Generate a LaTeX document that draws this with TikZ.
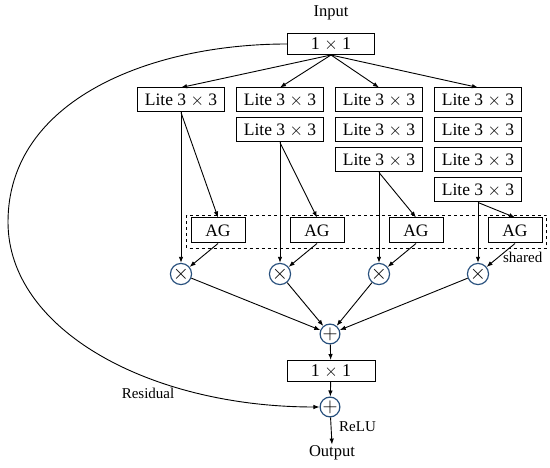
\documentclass[tikz,border=0pt]{standalone}
\usepackage{fontspec}
\setmainfont{Liberation Serif}
\usetikzlibrary{arrows.meta,calc,positioning}
\definecolor{opblue}{RGB}{40,80,125}

\begin{document}
\begin{tikzpicture}[x=1pt, y=-1pt,
    box/.style={draw, line width=1pt, inner sep=0pt, minimum width=87pt,
      minimum height=24pt, font=\fontsize{17.5}{20}\selectfont},
    agbox/.style={box, minimum width=54pt, minimum height=25pt},
    conv/.style={box, minimum height=21pt, font=\fontsize{18}{20}\selectfont},
    op/.style={draw=opblue, line width=1.2pt, circle, inner sep=0pt,
      minimum size=19pt, font=\fontsize{20}{20}\selectfont},
    lbl/.style={font=\fontsize{15}{18}\selectfont, inner sep=1pt},
    arr/.style={-{Latex[length=6pt,width=4.5pt]}, line width=0.9pt}]

\useasboundingbox (0,0) rectangle (550,468);

% Input and first 1x1
\node[lbl, font=\fontsize{16.5}{18}\selectfont] (input) at (331,13) {Input};
\node[conv, minimum width=87pt] (in1) at (331,44) {1 $\times$ 1};

% Branches: column c holds c stacked Lite blocks
\foreach \c/\x in {1/181, 2/280, 3/379, 4/478}{
  \foreach \r in {1,...,\c}{
    \node[box] (lite\c\r) at (\x,{100+30*(\r-1)}) {Lite 3 $\times$ 3};
  }
  \node[agbox] (ag\c) at (\x+37,230.5) {AG};
  \node[op] (mul\c) at (\x,274) {$\times$};
}

% Shared attention group
\draw[dashed, line width=0.9pt] ($(ag1.north west)+(-4,-2)$) rectangle ($(ag4.south east)+(4,5)$);
\node[lbl, anchor=north east] (shared) at ($(ag4.south east)+(1,7)$) {shared};

% Fusion and output
\node[op] (sum) at (330,334) {$+$};
\node[conv, minimum width=88pt] (out1) at (331,371) {1 $\times$ 1};
\node[op] (res) at (330,407) {$+$};
\node[lbl, font=\fontsize{16.5}{18}\selectfont] (output) at (332,453) {Output};
\node[lbl, anchor=west] (relu) at (338,427) {ReLU};
\node[lbl] (residual) at (148,393) {Residual};

% Connections
\foreach \c in {1,...,4}{
  \draw[arr] (in1.south) -- (lite\c1.north);
  \draw[arr] (lite\c\c.south) -- (mul\c.north);
  \draw[arr] (lite\c\c.south) -- (ag\c.north);
  \draw[arr] (ag\c.south) -- (mul\c);
  \draw[arr] (mul\c) -- (sum);
}
\draw[arr] (sum) -- (out1);
\draw[arr] (out1) -- (res);
\draw[arr] (res) -- (output.north);

% Residual path
\coordinate (resbend) at (8,222);
\draw[arr] (in1.west) .. controls (150,44) and (8,100) .. (resbend)
  .. controls (8,330) and (150,407) .. (res.west);

\end{tikzpicture}
\end{document}
